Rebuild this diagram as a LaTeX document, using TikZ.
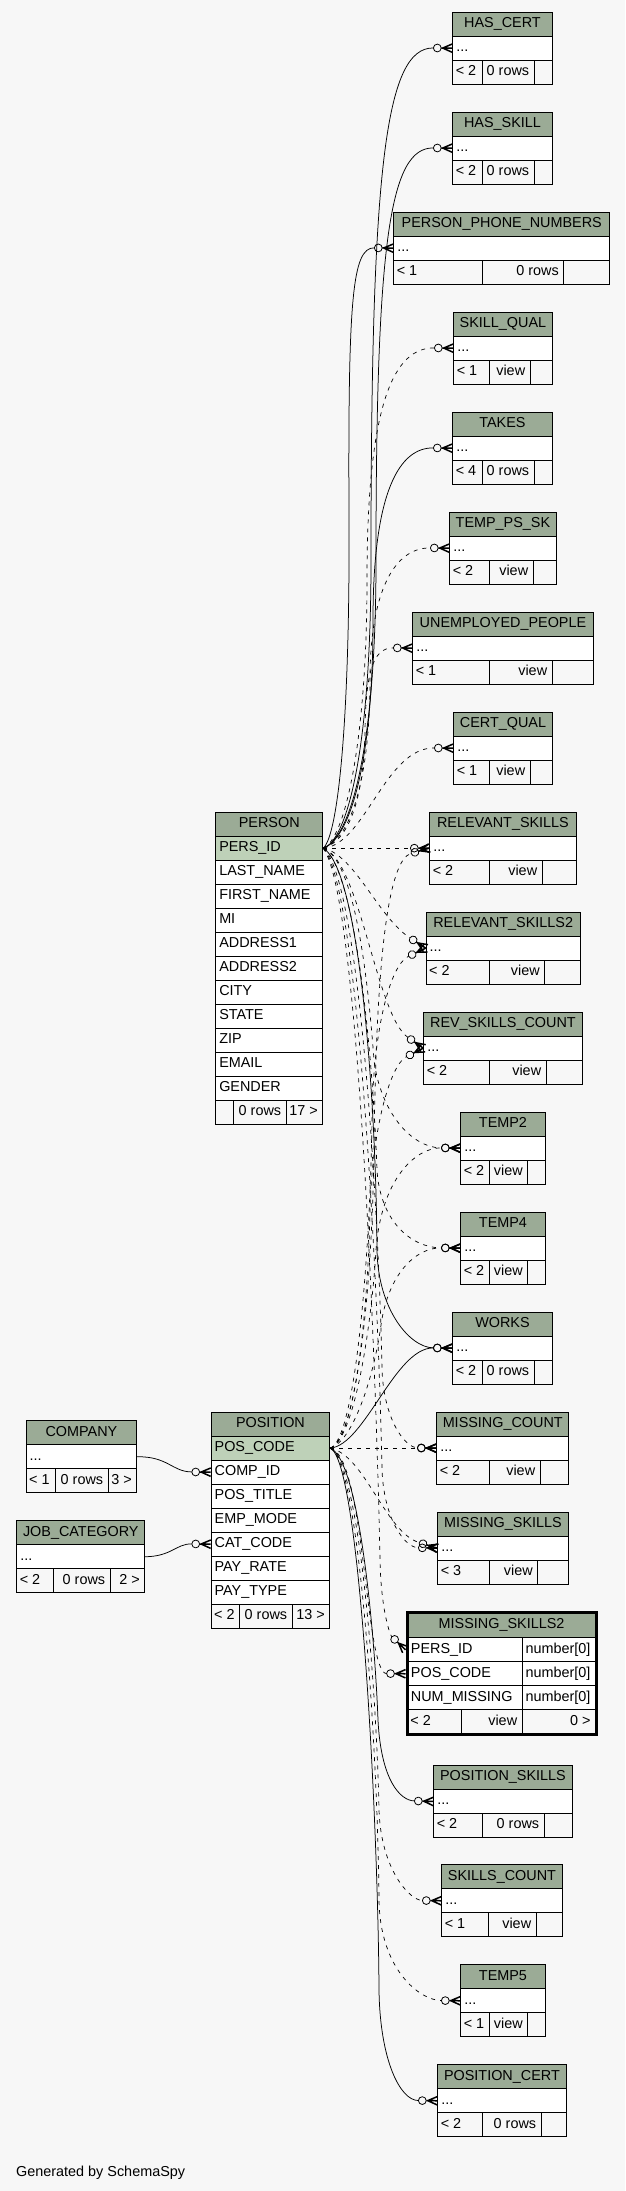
\documentclass[tikz,border=0pt]{standalone}
\usepackage{fontspec}
\setmainfont{Liberation Sans}
\usetikzlibrary{arrows.meta}
\definecolor{bg}{HTML}{F7F7F7}
\definecolor{hdr}{HTML}{9BAB96}
\definecolor{pkc}{HTML}{BED1B8}

\pgfdeclarearrow{
  name = crowodot,
  setup code = {
    \pgfarrowssettipend{0pt}
    \pgfarrowssetlineend{-19pt}
    \pgfarrowssetbackend{-19pt}
    \pgfarrowshullpoint{0pt}{4.5pt}
    \pgfarrowshullpoint{0pt}{-4.5pt}
    \pgfarrowshullpoint{-19pt}{4pt}
    \pgfarrowshullpoint{-19pt}{-4pt}
  },
  drawing code = {
    \pgfsetdash{}{0pt}
    \pgfsetroundjoin
    \pgfsetlinewidth{0.8pt}
    \pgfpathcircle{\pgfqpoint{-15pt}{0pt}}{3.9pt}
    \pgfusepathqstroke
    \pgfsetlinewidth{1.5pt}
    \pgfpathmoveto{\pgfqpoint{0pt}{4.2pt}}
    \pgfpathlineto{\pgfqpoint{-9.6pt}{0pt}}
    \pgfpathlineto{\pgfqpoint{0pt}{-4.2pt}}
    \pgfpathmoveto{\pgfqpoint{-11pt}{0pt}}
    \pgfpathlineto{\pgfqpoint{0pt}{0pt}}
    \pgfusepathqstroke
  }
}

\newcommand\tbfont{\fontsize{14.4}{17}\selectfont}
\tikzset{
  cell/.style={draw, line width=0.9pt, rectangle, anchor=north west, inner sep=0pt,
    minimum height=24pt, text height=10.3pt, text depth=3.7pt, font=\tbfont},
  rel/.style={line width=0.75pt, line cap=butt, -{crowodot}},
  relv/.style={rel, line width=0.7pt, dash pattern=on 4pt off 5pt},
}
\newcommand\fthree{}
\newcommand\stab[9]{%
  \node[cell, fill=hdr, minimum width=#4pt] (#1-h) at (#2,#3) {\makebox[#4pt][c]{#5}};
  \node[cell, fill=white, minimum width=#4pt] (#1-r) at (#2,#3+24) {\makebox[#4pt][l]{\hspace{3.5pt}...}};
  \node[cell, fill=bg, minimum width=#6pt] (#1-f1) at (#2,#3+48) {\makebox[#6pt][l]{\hspace{3pt}#8}};
  \node[cell, fill=bg, minimum width=#7pt] (#1-f2) at (#2+#6,#3+48) {\makebox[#7pt][r]{#9\hspace{5pt}}};
  \node[cell, fill=bg, minimum width=#4pt-#6pt-#7pt] (#1-f3) at (#2+#6+#7,#3+48) {\makebox[\dimexpr#4pt-#6pt-#7pt\relax][r]{\fthree\hspace{5pt}}};
}
\newcommand\rowc[6]{\node[cell, fill=#6, minimum width=#4pt] (#1) at (#2,#3) {\makebox[#4pt][l]{\hspace{3.5pt}#5}};}
\newcommand\fcl[5]{\node[cell, fill=bg, minimum width=#4pt] (#1) at (#2,#3) {\makebox[#4pt][l]{\hspace{3pt}#5}};}
\newcommand\fcr[5]{\node[cell, fill=bg, minimum width=#4pt] (#1) at (#2,#3) {\makebox[#4pt][r]{#5\hspace{5pt}}};}

\begin{document}
\begin{tikzpicture}[x=1pt,y=-1pt]
\fill[bg] (0,0) rectangle (625,2191);
\useasboundingbox (0,0) rectangle (625,2191);

% ---- right column tables
\stab{hc}{452.3}{11.7}{99.4}{HAS\_CERT}{29.4}{52}{< 2}{0 rows}
\stab{hs}{452.3}{111.7}{99.4}{HAS\_SKILL}{29.4}{52}{< 2}{0 rows}
\stab{ppn}{393.3}{211.7}{216}{PERSON\_PHONE\_NUMBERS}{88.4}{81.6}{< 1}{0 rows}
\stab{sq}{453.3}{311.7}{98.4}{SKILL\_QUAL}{36}{40.4}{< 1}{view}
\stab{tk}{452.3}{411.7}{99.4}{TAKES}{29.4}{52}{< 4}{0 rows}
\stab{tps}{449.3}{511.7}{106.4}{TEMP\_PS\_SK}{40}{43.4}{< 2}{view}
\stab{up}{412.3}{611.7}{180.4}{UNEMPLOYED\_PEOPLE}{77}{62.4}{< 1}{view}
\stab{cq}{453.3}{711.7}{98.4}{CERT\_QUAL}{36}{40.4}{< 1}{view}
\stab{rs}{429.3}{811.7}{146.4}{RELEVANT\_SKILLS}{60}{52.4}{< 2}{view}
\stab{rs2}{425.7}{911.7}{154}{RELEVANT\_SKILLS2}{63.6}{55}{< 2}{view}
\stab{rsc}{423.3}{1011.7}{158.4}{REV\_SKILLS\_COUNT}{66}{56.4}{< 2}{view}
\stab{t2}{460.3}{1111.7}{84.4}{TEMP2}{29}{38}{< 2}{view}
\stab{t4}{460.3}{1211.7}{84.4}{TEMP4}{29}{38}{< 2}{view}
\stab{wk}{452.3}{1311.7}{99.4}{WORKS}{29.4}{52}{< 2}{0 rows}
\stab{mc}{436.3}{1411.7}{132}{MISSING\_COUNT}{53}{50.4}{< 2}{view}
\stab{ms}{437.3}{1511.7}{130.4}{MISSING\_SKILLS}{52}{48}{< 3}{view}
\stab{psk}{433.3}{1765}{138.4}{POSITION\_SKILLS}{48.4}{62}{< 2}{0 rows}
\stab{sc}{441.3}{1864.3}{120.4}{SKILLS\_COUNT}{47}{47.4}{< 1}{view}
\stab{t5}{460.3}{1964.3}{84.4}{TEMP5}{29}{38}{< 1}{view}
\stab{pc}{437.3}{2064.3}{128.4}{POSITION\_CERT}{44.4}{59}{< 2}{0 rows}

% ---- left tables
\renewcommand\fthree{3 >}
\stab{co}{25.7}{1420.3}{110.6}{COMPANY}{29.6}{52.4}{< 1}{0 rows}
\renewcommand\fthree{2 >}
\stab{jc}{16.3}{1520.3}{128}{JOB\_CATEGORY}{37}{56.4}{< 2}{0 rows}
\renewcommand\fthree{}

% ---- PERSON
\node[cell, fill=hdr, minimum width=107pt] (person-h) at (215.3,811.7) {\makebox[107pt][c]{PERSON}};
\rowc{person-pk}{215.3}{835.7}{107}{PERS\_ID}{pkc}
\rowc{person-ln}{215.3}{859.7}{107}{LAST\_NAME}{white}
\rowc{person-fn}{215.3}{883.7}{107}{FIRST\_NAME}{white}
\rowc{person-mi}{215.3}{907.7}{107}{MI}{white}
\rowc{person-a1}{215.3}{931.7}{107}{ADDRESS1}{white}
\rowc{person-a2}{215.3}{955.7}{107}{ADDRESS2}{white}
\rowc{person-ci}{215.3}{979.7}{107}{CITY}{white}
\rowc{person-st}{215.3}{1003.7}{107}{STATE}{white}
\rowc{person-zi}{215.3}{1027.7}{107}{ZIP}{white}
\rowc{person-em}{215.3}{1051.7}{107}{EMAIL}{white}
\rowc{person-ge}{215.3}{1075.7}{107}{GENDER}{white}
\fcl{person-f1}{215.3}{1099.7}{18}{}
\fcr{person-f2}{233.3}{1099.7}{52.4}{0 rows}
\fcr{person-f3}{285.7}{1099.7}{36.6}{17 >}

% ---- POSITION
\node[cell, fill=hdr, minimum width=118.6pt] (position-h) at (210.7,1411.7) {\makebox[118.6pt][c]{POSITION}};
\rowc{position-pk}{210.7}{1435.7}{118.6}{POS\_CODE}{pkc}
\rowc{position-comp}{210.7}{1459.7}{118.6}{COMP\_ID}{white}
\rowc{position-ti}{210.7}{1483.7}{118.6}{POS\_TITLE}{white}
\rowc{position-em}{210.7}{1507.7}{118.6}{EMP\_MODE}{white}
\rowc{position-cat}{210.7}{1531.7}{118.6}{CAT\_CODE}{white}
\rowc{position-pr}{210.7}{1555.7}{118.6}{PAY\_RATE}{white}
\rowc{position-pt}{210.7}{1579.7}{118.6}{PAY\_TYPE}{white}
\fcl{position-f1}{210.7}{1603.7}{28.6}{< 2}
\fcr{position-f2}{239.3}{1603.7}{52.4}{0 rows}
\fcr{position-f3}{291.7}{1603.7}{37.6}{13 >}

% ---- MISSING_SKILLS2
\node[cell, fill=hdr, minimum width=188.2pt, minimum height=25.1pt] (ms2-h) at (407,1612.2) {\makebox[188.2pt][c]{MISSING\_SKILLS2}};
\rowc{ms2-pid}{407}{1637.3}{114.7}{PERS\_ID}{white}
\rowc{ms2-pidt}{521.7}{1637.3}{73.5}{number[0]}{white}
\rowc{ms2-pc}{407}{1661.3}{114.7}{POS\_CODE}{white}
\rowc{ms2-pct}{521.7}{1661.3}{73.5}{number[0]}{white}
\rowc{ms2-nm}{407}{1685.3}{114.7}{NUM\_MISSING}{white}
\rowc{ms2-nmt}{521.7}{1685.3}{73.5}{number[0]}{white}
\fcl{ms2-f1}{407}{1709.3}{53.7}{< 2}
\fcr{ms2-f2}{460.7}{1709.3}{61}{view}
\fcr{ms2-f3}{521.7}{1709.3}{73.5}{0 >}
\draw[line width=3pt] (ms2-h.north west) rectangle (ms2-f3.south east);

% ---- edges from PERSON
\draw[rel] (person-pk.east) .. controls (345,842) and (371,760) .. (371,560) .. controls (371,170) and (385,47.5) .. (hc-r.west);
\draw[rel] (person-pk.east) .. controls (348,840) and (376,760) .. (376,560) .. controls (376,240) and (390,147.5) .. (hs-r.west);
\draw[rel] (person-pk.east) .. controls (338,836) and (350,720) .. (349,520) .. controls (348,300) and (352,247.5) .. (ppn-r.west);
\draw[relv] (person-pk.east) .. controls (345,840) and (367,740) .. (367,580) .. controls (367,400) and (395,347.5) .. (sq-r.west);
\draw[rel] (person-pk.east) .. controls (348,840) and (373,770) .. (373,620) .. controls (373,490) and (400,447.5) .. (tk-r.west);
\draw[relv] (person-pk.east) .. controls (350,840) and (370,780) .. (370,680) .. controls (370,590) and (395,547.5) .. (tps-r.west);
\draw[relv] (person-pk.east) .. controls (352,840) and (364,790) .. (365,730) .. controls (366,675) and (372,647.5) .. (up-r.west);
\draw[relv] (person-pk.east) .. controls (365,845) and (385,747.5) .. (cq-r.west);
\draw[relv] (person-pk.east) -- (rs-r.west);
\draw[relv] (person-pk.east) .. controls (355,855) and (378,917) .. (rs2-r.west);
\draw[relv] (person-pk.east) .. controls (360,860) and (376,1015) .. (rsc-r.west);
\draw[relv] (person-pk.east) .. controls (355,860) and (368,980) .. (374,1060) .. controls (380,1110) and (410,1147.5) .. (t2-r.west);
\draw[relv] (person-pk.east) .. controls (358,870) and (374,1080) .. (377,1170) .. controls (380,1220) and (410,1247.5) .. (t4-r.west);
\draw[rel] (person-pk.east) .. controls (360,870) and (376,1100) .. (377,1250) .. controls (378,1310) and (410,1347.5) .. (wk-r.west);
\draw[relv] (person-pk.east) .. controls (362,880) and (380,1250) .. (382,1370) .. controls (384,1420) and (405,1447.5) .. (mc-r.west);
\draw[relv] (person-pk.east) .. controls (362,890) and (380,1350) .. (382,1470) .. controls (384,1520) and (405,1547.5) .. (ms-r.west);
\draw[relv] (person-pk.east) .. controls (362,900) and (378,1450) .. (380,1560) .. controls (381,1610) and (390,1635) .. ([xshift=-1.5pt]ms2-pid.west);

% ---- edges from POSITION
\draw[relv] (position-pk.east) .. controls (355,1440) and (372,1300) .. (374,1150) .. controls (376,960) and (388,860) .. (rs-r.west);
\draw[relv] (position-pk.east) .. controls (355,1440) and (370,1260) .. (372,1120) .. controls (373,1030) and (390,965) .. (rs2-r.west);
\draw[relv] (position-pk.east) .. controls (355,1440) and (368,1310) .. (370,1210) .. controls (372,1130) and (390,1065) .. (rsc-r.west);
\draw[relv] (position-pk.east) .. controls (355,1440) and (372,1320) .. (376,1250) .. controls (381,1180) and (415,1147.5) .. (t2-r.west);
\draw[relv] (position-pk.east) .. controls (355,1440) and (375,1370) .. (381,1325) .. controls (388,1275) and (415,1247.5) .. (t4-r.west);
\draw[rel] (position-pk.east) .. controls (365,1445) and (395,1347.5) .. (wk-r.west);
\draw[relv] (position-pk.east) -- (mc-r.west);
\draw[relv] (position-pk.east) .. controls (365,1455) and (385,1532) .. (ms-r.west);
\draw[relv] (position-pk.east) .. controls (365,1455) and (365,1673.3) .. ([xshift=-1.5pt]ms2-pc.west);
\draw[rel] (position-pk.east) .. controls (360,1460) and (375,1640) .. (378,1720) .. controls (381,1780) and (400,1800.5) .. (psk-r.west);
\draw[relv] (position-pk.east) .. controls (360,1460) and (377,1700) .. (379,1810) .. controls (381,1870) and (410,1900.3) .. (sc-r.west);
\draw[relv] (position-pk.east) .. controls (360,1460) and (378,1760) .. (379,1900) .. controls (380,1970) and (420,2000.3) .. (t5-r.west);
\draw[rel] (position-pk.east) .. controls (360,1460) and (378,1820) .. (379,1990) .. controls (380,2060) and (400,2100.3) .. (pc-r.west);

% ---- company / job category
\draw[rel] (co-r.east) .. controls (168,1456.3) and (172,1471.7) .. (position-comp.west);
\draw[rel] (jc-r.east) .. controls (172,1556.3) and (176,1543.7) .. (position-cat.west);

\node[anchor=base west, inner sep=0pt, font=\tbfont] (gen) at (16,2176) {Generated by SchemaSpy};
\end{tikzpicture}
\end{document}
